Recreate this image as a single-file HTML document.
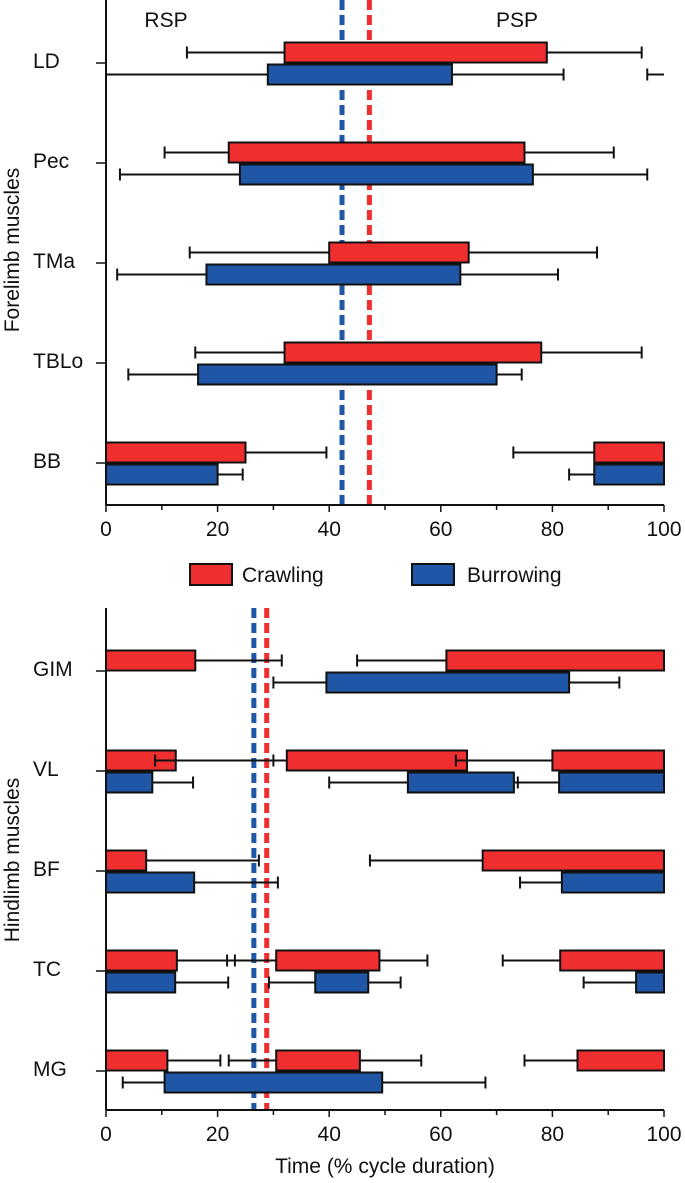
<!DOCTYPE html>
<html><head><meta charset="utf-8">
<style>
body{margin:0;background:#fff;}
svg{display:block;font-family:"Liberation Sans",Arial,sans-serif;}
</style></head>
<body>
<svg id="chart" width="685" height="1183" viewBox="0 0 685 1183" xmlns="http://www.w3.org/2000/svg"></svg>
<script>
// Forelimb panel data
const foreMuscles = ["LD","Pec","TMa","TBLo","BB"];
// segments: [barStart, barEnd, whiskerLeft, whiskerRight]
const foreCrawl = [
  [[32,79,14.5,96]],
  [[22,75,10.5,91]],
  [[40,65,15,88]],
  [[32,78,16,96]],
  [[0,25,null,39.5],[87.5,100,73,null]]
];
const foreBurrow = [
  [[29,62,0,82],[100,100,97,null]],
  [[24,76.5,2.5,97]],
  [[18,63.5,2,81]],
  [[16.5,70,4,74.5]],
  [[0,20,null,24.5],[87.5,100,83,null]]
];
const foreDashBurrow = 42.3, foreDashCrawl = 47.2;
// Hindlimb panel data
const hindMuscles = ["GIM","VL","BF","TC","MG"];
const hindCrawl = [
  [[0,16,null,31.5],[61,100,45,null]],
  [[0,12.5,null,30],[32.4,64.7,8.8,90.3],[80,100,62.7,null]],
  [[0,7.2,null,27.4],[67.5,100,47.3,null]],
  [[0,12.7,null,23.1],[30.5,49,21.7,57.6],[81.4,100,71.1,null]],
  [[0,11,null,20.5],[30.5,45.5,22,56.5],[84.5,100,75,null]]
];
const hindBurrow = [
  [[39.5,83,30,92]],
  [[0,8.3,null,15.6],[54.1,73.1,40,92],[81.2,100,73.8,null]],
  [[0,15.8,null,30.8],[81.7,100,74.2,null]],
  [[0,12.4,null,21.9],[37.5,47,29.2,52.8],[95,100,85.6,null]],
  [[10.5,49.5,3,68]]
];
const hindDashBurrow = 26.5, hindDashCrawl = 28.8;
const xTicks = [0,20,40,60,80,100];

const svg = document.getElementById('chart');
const NS = "http://www.w3.org/2000/svg";
function mk(tag, attrs, parent){
  const e = document.createElementNS(NS, tag);
  for (const k in attrs) e.setAttribute(k, attrs[k]);
  (parent||svg).appendChild(e);
  return e;
}
const X0 = 106, X1 = 664;
const xs = v => X0 + (X1 - X0) * v / 100;
const RED = "#ee2e2f", BLUE = "#1f57a6";
const FS = 21;
const SW = 2;

function panel(name, muscles, crawl, burrow, yTop, yBottom, rowY0, rowStep, dashB, dashC, title, titleY){
  const g = mk('g', {});
  
  
  const yTick = i => rowY0 + i * rowStep;
  const db = mk('line', {x1: xs(dashB), x2: xs(dashB), y1: yTop, y2: yBottom, stroke: BLUE, 'stroke-width': 5, 'stroke-dasharray': '10,5'}, g);
  
  
  const dc = mk('line', {x1: xs(dashC), x2: xs(dashC), y1: yTop, y2: yBottom, stroke: RED, 'stroke-width': 5, 'stroke-dasharray': '10,5'}, g);
  
  
  function drawSeries(data, color, off, sname){
    data.forEach((segs, i) => {
      const cy = yTick(i) + off;
      segs.forEach(s => {
        const [a, b, wl, wr] = s;
        if (wl !== null) {
          const l = mk('line', {x1: xs(wl), x2: xs(a), y1: cy, y2: cy, stroke: '#111', 'stroke-width': SW}, g);
          
          
          const c = mk('line', {x1: xs(wl), x2: xs(wl), y1: cy - 6, y2: cy + 6, stroke: '#111', 'stroke-width': SW}, g);
          
          
        }
        if (wr !== null) {
          const l = mk('line', {x1: xs(b), x2: xs(wr), y1: cy, y2: cy, stroke: '#111', 'stroke-width': SW}, g);
          
          
          const c = mk('line', {x1: xs(wr), x2: xs(wr), y1: cy - 6, y2: cy + 6, stroke: '#111', 'stroke-width': SW}, g);
          
          
        }
        if (b > a) {
          const r = mk('rect', {x: xs(a), y: cy - 10, width: xs(b) - xs(a), height: 20, fill: color, stroke: '#111', 'stroke-width': SW}, g);
          
          
        }
      });
    });
  }
  drawSeries(crawl, RED, -10.5, 'crawling');
  drawSeries(burrow, BLUE, 11.5, 'burrowing');
  const ya = mk('line', {x1: X0, x2: X0, y1: yTop, y2: yBottom, stroke: '#111', 'stroke-width': SW}, g);
  
  
  const xa = mk('line', {x1: X0, x2: X1, y1: yBottom, y2: yBottom, stroke: '#111', 'stroke-width': SW}, g);
  
  
  for (let v = 0; v <= 100; v += 10) {
    mk('line', {x1: xs(v), x2: xs(v), y1: yBottom, y2: yBottom + (v % 20 === 0 ? 7 : 5), stroke: '#111', 'stroke-width': 1.5}, g);
  }
  xTicks.forEach(v => {
    const t = mk('text', {x: xs(v), y: yBottom + 31, 'text-anchor': 'middle', 'font-size': FS, fill: '#111'}, g);
    t.textContent = v;
    
    
  });
  muscles.forEach((m, i) => {
    mk('line', {x1: X0 - 10, x2: X0, y1: yTick(i), y2: yTick(i), stroke: '#111', 'stroke-width': 1.5}, g);
    const t = mk('text', {x: 33, y: yTick(i) + 5, 'font-size': FS, fill: '#111'}, g);
    t.textContent = m;
    
    
  });
  const yt = mk('text', {x: 0, y: 0, transform: 'translate(19,' + titleY + ') rotate(-90)', 'text-anchor': 'middle', 'font-size': FS, fill: '#111'}, g);
  yt.textContent = title;
  
  
}

panel('forelimb', foreMuscles, foreCrawl, foreBurrow, 0, 505, 63, 100, foreDashBurrow, foreDashCrawl, 'Forelimb muscles', 250);
panel('hindlimb', hindMuscles, hindCrawl, hindBurrow, 608, 1110, 671, 100, hindDashBurrow, hindDashCrawl, 'Hindlimb muscles', 860);

let t = mk('text', {x: 166, y: 27, 'text-anchor': 'middle', 'font-size': FS, fill: '#111'});
t.textContent = 'RSP';


t = mk('text', {x: 517, y: 27, 'text-anchor': 'middle', 'font-size': FS, fill: '#111'});
t.textContent = 'PSP';



const lg = mk('g', {});


let r = mk('rect', {x: 190, y: 564, width: 42, height: 21, fill: RED, stroke: '#111', 'stroke-width': SW}, lg);


t = mk('text', {x: 242, y: 582, 'font-size': FS, fill: '#111'}, lg);
t.textContent = 'Crawling';


r = mk('rect', {x: 412, y: 564, width: 42, height: 21, fill: BLUE, stroke: '#111', 'stroke-width': SW}, lg);


t = mk('text', {x: 467, y: 582, 'font-size': FS, fill: '#111'}, lg);
t.textContent = 'Burrowing';



t = mk('text', {x: 385, y: 1173, 'text-anchor': 'middle', 'font-size': FS, fill: '#111'});
t.textContent = 'Time (% cycle duration)';


</script>
</body></html>
